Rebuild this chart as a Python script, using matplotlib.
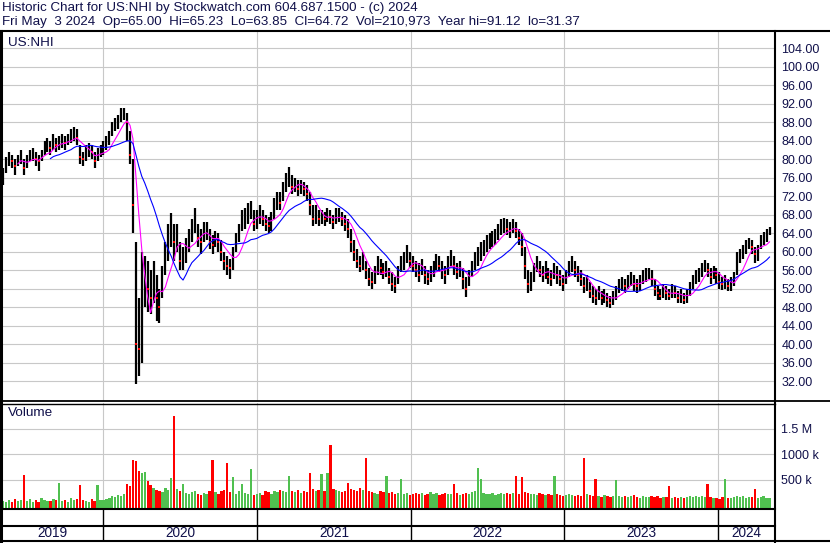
import numpy as np
import pandas as pd
import matplotlib
matplotlib.use('Agg')
import matplotlib.pyplot as plt
from matplotlib.lines import Line2D
from datetime import datetime

# weekly price bars (May 2019 - May 2024)
close = [76.5, 79, 80.5, 79.5, 78.5, 80, 80.5, 78, 79.5, 80.5,
         81, 80, 79.5, 81, 82.5, 83, 82.5, 84, 83, 83.5,
         84, 83.5, 84.5, 85, 85.5, 84.5, 80.5, 80, 81, 82,
         81.5, 79.5, 81, 81.5, 82.5, 83.5, 84.5, 86.5, 87.5, 88,
         89.5, 90, 88, 81, 70, 40, 39, 45, 55, 52,
         50, 54, 50, 48, 54, 58, 63, 66, 62, 63,
         58, 58.5, 60, 63, 65, 66, 63, 62, 64, 64.5,
         62, 61.5, 63, 62, 60, 58, 57, 56.5, 59, 62,
         64, 66.5, 67, 68, 69, 66, 67, 68, 67, 66,
         65.5, 66.5, 69, 71, 70.5, 73, 75.5, 76, 74, 74.5,
         73.5, 74, 73.5, 72.5, 70, 67, 68, 67, 67.5, 67,
         68, 67.5, 66.5, 67.5, 68, 67, 66, 65, 62, 60,
         58, 57, 58, 56, 54, 53.5, 55, 57, 56.5, 55.5,
         56, 54.5, 53, 52.5, 55, 57, 58, 59.5, 58, 57,
         56, 55, 56.5, 55, 54, 55, 56, 57.5, 57, 56,
         55, 57, 58.5, 57, 55.5, 56, 54, 52, 54, 56,
         58, 59, 60, 60.5, 61.5, 62, 62.5, 63, 64, 65,
         65.5, 65, 64.5, 65.5, 64.5, 63, 61, 57, 53, 53.5,
         55.5, 57, 56, 55, 56, 54.5, 54, 55.5, 55, 54,
         53, 54.5, 56, 57, 56, 55, 54, 52.5, 53, 51.5,
         50.5, 50, 51, 50, 50.5, 49.5, 49, 50, 51, 52.5,
         53, 52.5, 53.5, 54, 53, 52.5, 53, 54.5, 55, 55.5,
         54, 52, 51, 50.5, 51.5, 51, 50.5, 51.5, 51, 50,
         50.5, 49.5, 50.5, 52, 53.5, 54.5, 55, 56, 57, 56,
         54.5, 55.5, 55, 53.5, 53, 53.5, 52.5, 53, 54, 58.5,
         59, 60, 61, 62, 61, 59.5, 60, 62, 63, 63.5,
         64.72]

high = [78, 80.5, 81.5, 81, 80, 81, 82, 80, 81, 82,
        82.5, 81.5, 81, 82, 84, 84.5, 84, 85.5, 84.5, 85,
        85.5, 85, 85.5, 86.5, 87, 86.5, 83, 81.5, 83, 83.5,
        83, 81.5, 82.5, 83, 84, 85, 86, 88, 89, 89.5,
        91, 91.1, 90, 86, 80, 62, 50, 60, 59, 58,
        56, 58, 55, 52, 57, 62, 66, 68.3, 66, 66,
        62, 61, 63, 65, 67, 69.5, 66, 65, 66.5, 66.5,
        65, 63.5, 64.5, 64, 62.5, 60, 59, 58.5, 61, 64,
        66, 69, 69.5, 70.5, 71, 69, 69, 70, 69, 68,
        67.5, 68.5, 71.5, 73, 73, 75, 77, 78.4, 76.5, 76,
        75.5, 75.5, 75, 74.5, 73, 70, 70, 69, 69, 68.5,
        69.5, 69, 68, 69.5, 69.5, 68.5, 68, 67, 65, 62.5,
        60.5, 59, 60, 58, 56.5, 55.5, 57, 59, 58.5, 57.5,
        58, 56.5, 55.5, 54.5, 57, 59, 60, 61.5, 60, 59,
        58, 57.5, 58.5, 57, 56, 57, 58, 59.5, 59, 58,
        57, 59, 60.4, 59, 57.5, 58, 56.5, 54.5, 56, 58,
        60, 61, 62, 62.5, 63.5, 64, 64.5, 65, 66, 67,
        67.3, 67, 66.5, 67, 66.5, 65, 64, 61, 56, 55.5,
        57.5, 59, 58, 57, 58, 56.5, 56, 57.5, 57, 56,
        55, 56, 58, 59, 58, 57, 56, 54.5, 55, 53.5,
        52.5, 52, 52.5, 51.5, 52, 51, 50.5, 51.5, 52.5, 54,
        54.5, 54, 55, 55.5, 55, 54, 55, 56, 56.5, 56.5,
        56, 54, 52.5, 52, 53, 52.5, 52, 53, 52.5, 51.5,
        52, 51, 52, 53.5, 55, 56, 56.5, 57.5, 58.3, 57.5,
        56.5, 57, 56.5, 55.5, 54.5, 55, 54, 54.5, 55.5, 60,
        60.5, 61.5, 62.5, 63, 62.5, 61, 61.5, 63.5, 64.3, 64.8,
        65.23]

low = [74.5, 77, 78.5, 78, 76.5, 78.5, 79, 76.5, 78, 79.5,
       79.5, 78.5, 77.5, 79.5, 81, 81.5, 81, 82, 81.5, 82,
       82.5, 82, 83, 83.5, 84, 83, 79, 78.5, 79.5, 80.5,
       80, 78, 79.5, 80.5, 81, 82, 83, 85, 86, 86.5,
       88, 88.5, 84, 79, 64, 31.4, 33, 36, 48, 47,
       46.5, 49, 45, 44.5, 50, 55, 58, 61, 58, 60,
       56, 56, 57.5, 60, 62, 64, 61, 59.5, 62, 62.5,
       60.5, 59.5, 61, 60, 58, 56, 55, 54, 56, 60,
       62, 64.5, 65, 66, 67, 64.5, 65, 66, 65.5, 64.5,
       64, 64.5, 67, 69, 69, 71, 73, 74, 72.5, 73,
       72, 72.5, 72, 71, 68, 65.5, 66, 65.5, 66, 65.5,
       66.5, 66, 65, 66, 66.5, 65.5, 64.5, 63, 60, 58,
       56.5, 55.5, 56, 54, 52.5, 52, 53, 55, 55, 54,
       54.5, 53, 51.5, 51, 53, 55.5, 56, 57.5, 56.5, 55.5,
       54.5, 53.5, 55, 53, 52.8, 53.5, 54.5, 56, 55.5, 54,
       53, 55, 57, 55, 54, 54.5, 52, 50.2, 52.5, 54.5,
       56, 57, 58, 59, 60, 60.5, 61, 61.5, 62.5, 63.5,
       64, 63.5, 63, 64, 63, 61.5, 59, 54, 51, 51.5,
       53.5, 55.5, 54.5, 53.5, 54, 53, 52.5, 54, 53, 52.5,
       51.5, 53, 54.5, 55.5, 54.5, 53.5, 52.5, 51, 51.5, 50,
       49, 48.5, 49.5, 48.5, 49, 48, 47.9, 48.5, 49.5, 51,
       51.5, 51, 52, 52.5, 51.5, 51, 51.5, 53, 53.5, 54,
       52.5, 50.5, 49.5, 49.5, 50, 49.5, 49.5, 50, 50, 49,
       49, 48.7, 49, 50.5, 52, 53, 53.5, 54.5, 55.5, 54.5,
       53, 54, 53, 52, 51.8, 52, 51.5, 51.5, 52.5, 55,
       57.5, 58.5, 59.5, 60.5, 59.5, 57.6, 58, 60.5, 61.5, 62,
       63.5]

# typical daily volume per week, thousands of shares
volume = [150, 130, 180, 140, 200, 160, 170, 660, 150, 190,
          140, 170, 130, 210, 180, 160, 150, 200, 170, 520,
          160, 180, 140, 210, 170, 190, 470, 180, 160, 140,
          200, 150, 470, 170,
          180, 200, 220, 250, 230, 280, 260, 300, 500, 450,
          970, 950, 750, 700, 720, 550, 480, 420, 380, 350,
          330, 420, 380, 600, 1820, 400, 350, 500, 320, 300,
          340, 360, 300, 280, 320, 290, 350, 960, 330, 300,
          350, 380, 900, 330, 620, 300, 350, 500, 320, 300,
          780, 280,
          300, 320, 280, 350, 330, 300, 360, 340, 380, 350,
          330, 640, 360, 340, 380, 320, 350, 330, 700, 400,
          360, 380, 680, 350, 700, 1260, 400, 380, 350, 330,
          360, 510, 400, 380, 350, 420, 380, 1010, 360, 340,
          320, 300, 350, 330, 650, 310, 330, 300, 320, 590,
          300, 320,
          280, 300, 320, 290, 310, 280, 300, 330, 290, 310,
          280, 300, 320, 300, 290, 500, 310, 280, 300, 320,
          300, 330, 350, 800, 580, 320, 300, 290, 310, 280,
          300, 320, 290, 310, 300, 320, 650, 300, 630, 340,
          320, 290, 300, 280, 310, 290, 270, 300, 280, 650,
          290, 270,
          260, 280, 300, 270, 250, 280, 260, 1000, 300, 270,
          250, 580, 260, 240, 270, 250, 230, 260, 570, 250,
          240, 260, 230, 250, 270, 240, 220, 250, 230, 240,
          260, 230, 250, 220, 240, 230, 450, 220, 240, 210,
          230, 220, 240, 250, 230, 260, 240, 250, 230, 500,
          230, 210,
          220, 200, 230, 580, 210, 220, 240, 260, 230, 250,
          220, 240, 230, 400, 210, 230, 250, 220, 210]

years = [2019, 2020, 2021, 2022, 2023, 2024]
price_ticks = list(range(32, 105, 4))
vol_ticks = [500000, 1000000, 1500000]
vol_tick_labels = ['500 k', '1000 k', '1.5 M']
title1 = 'Historic Chart for US:NHI by Stockwatch.com 604.687.1500 - (c) 2024'
title2 = ('Fri May  3 2024  Op=65.00  Hi=65.23  Lo=63.85  Cl=64.72  '
          'Vol=210,973  Year hi=91.12  lo=31.37')

W, H = 830, 543
TXT = '#10104a'
GRID = '#c8c8c8'
plt.rcParams['font.family'] = ['Liberation Sans', 'DejaVu Sans']


def fx(x):
    return x / W


def fy(y):
    return 1 - y / H


def hline(fig, x0, x1, y, lw):
    fig.add_artist(Line2D([fx(x0), fx(x1)], [fy(y), fy(y)],
                          transform=fig.transFigure, color='k', lw=lw))


def vline(fig, x, y0, y1, lw):
    fig.add_artist(Line2D([fx(x), fx(x)], [fy(y0), fy(y1)],
                          transform=fig.transFigure, color='k', lw=lw))


dates = pd.date_range('2019-05-09', periods=len(close), freq='7D')
c = pd.Series(close, index=dates)
ma_fast = c.rolling(6).mean()
ma_slow = c.rolling(17).mean()
down = np.r_[False, np.diff(close) < 0]
vol = np.array(volume) * 1000.0
vol_colors = np.where(down, '#ff0000', '#50c050')

x_lo, x_hi = datetime(2019, 5, 6), datetime(2024, 5, 15)
year_starts = [datetime(y, 1, 1) for y in years[1:]]

fig = plt.figure(figsize=(W / 100, H / 100), dpi=100)
fig.patch.set_facecolor('white')

ax = fig.add_axes([fx(2), fy(401), fx(775) - fx(2), fy(32) - fy(401)])
axv = fig.add_axes([fx(2), fy(509), fx(775) - fx(2), fy(403) - fy(509)])
axy = fig.add_axes([fx(2), fy(541), fx(775) - fx(2), fy(509) - fy(541)])

# price panel
ax.set_xlim(x_lo, x_hi)
ax.set_ylim(27.7, 107.5)
ax.set_yticks(price_ticks)
ax.set_yticklabels([f'{p:.2f}' for p in price_ticks])
ax.yaxis.tick_right()
ax.tick_params(axis='y', length=0, pad=4.5, labelsize=9.0, labelcolor=TXT)
ax.set_xticks([])
ax.grid(axis='y', color=GRID, lw=0.8)
for d in year_starts:
    ax.axvline(d, color=GRID, lw=0.8, zorder=0)
ax.vlines(dates, low, high, color='black', lw=1.6, zorder=2)
ax.scatter(dates[down], np.array(close)[down], s=3.5, marker='s',
           color='#ff0000', lw=0, zorder=3)
ax.plot(dates, ma_fast, color='#ff00ff', lw=0.8, zorder=4)
ax.plot(dates, ma_slow, color='#0000ff', lw=0.8, zorder=4)
for s in ax.spines.values():
    s.set_visible(False)

# volume panel
axv.set_xlim(x_lo, x_hi)
axv.set_ylim(-70000, 2010000)
axv.set_yticks(vol_ticks)
axv.set_yticklabels(vol_tick_labels)
axv.yaxis.tick_right()
axv.tick_params(axis='y', length=0, pad=4.5, labelsize=9.0, labelcolor=TXT)
axv.set_xticks([])
axv.grid(axis='y', color=GRID, lw=0.8)
for d in year_starts:
    axv.axvline(d, color=GRID, lw=0.8, zorder=0)
axv.bar(dates, vol, width=5.5, bottom=-70000, color=vol_colors, lw=0,
        zorder=2)
for s in axv.spines.values():
    s.set_visible(False)

# year strip
axy.set_xlim(x_lo, x_hi)
axy.set_ylim(0, 1)
axy.set_xticks([])
axy.set_yticks([])
axy.patch.set_alpha(0)
for s in axy.spines.values():
    s.set_visible(False)
for d in year_starts:
    axy.axvline(d, color='black', lw=1.0)
bounds = [x_lo] + year_starts + [x_hi]
for i, y in enumerate(years):
    mid = bounds[i] + (bounds[i + 1] - bounds[i]) / 2
    axy.text(mid, 0.24, str(y), ha='center', va='center', fontsize=9.8,
             color=TXT)

# labels and title
fig.text(fx(2), fy(8), title1, ha='left', va='center', fontsize=9.6,
         color=TXT)
fig.text(fx(2), fy(22), title2, ha='left', va='center', fontsize=9.6,
         color=TXT)
fig.text(fx(8), fy(43), 'US:NHI', ha='left', va='center', fontsize=9.7,
         color=TXT)
fig.text(fx(8), fy(413), 'Volume', ha='left', va='center', fontsize=9.7,
         color=TXT)

# frame lines
hline(fig, 0, W, 31, 1.5)
hline(fig, 0, W, 401, 1.3)
hline(fig, 0, 775, 403.5, 1.0)
hline(fig, 0, 775, 509, 1.5)
hline(fig, 0, 775, 526, 1.5)
hline(fig, 0, W, 541, 1.5)
vline(fig, 1, 31, 542, 2.2)
vline(fig, 775, 31, 542, 1.5)

fig.savefig('out.png', dpi=100, facecolor='white')
